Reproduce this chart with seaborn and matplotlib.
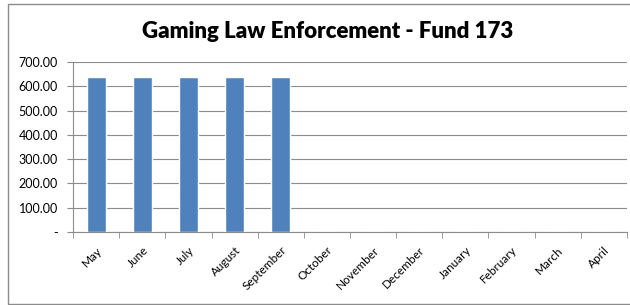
import matplotlib
matplotlib.use('Agg')
import matplotlib.pyplot as plt
from matplotlib.patches import Rectangle
from matplotlib.ticker import FuncFormatter, FixedLocator
import seaborn as sns
import pandas as pd

# Data
months = ['May', 'June', 'July', 'August', 'September', 'October',
          'November', 'December', 'January', 'February', 'March', 'April']
amounts = [640, 640, 640, 640, 640, 0, 0, 0, 0, 0, 0, 0]
title = 'Gaming Law Enforcement - Fund 173'

df = pd.DataFrame({'month': months, 'amount': amounts})

sns.set_style('white')
plt.rcParams['font.family'] = ['Lato', 'DejaVu Sans']

fig = plt.figure(figsize=(6.3, 3.05), dpi=100)
ax = fig.add_axes([73 / 630, 1 - 232 / 305, 554 / 630, 170 / 305])

sns.barplot(data=df, x='month', y='amount', order=months, color='#4f81bd',
            width=0.41, saturation=1, ax=ax, zorder=3)

ax.set_ylim(0, 700)
ax.set_xlim(-0.5, 11.5)
ax.set_yticks(range(0, 701, 100))
ax.yaxis.set_major_formatter(FuncFormatter(lambda v, p: '-' if v == 0 else f'{v:.2f}'))
ax.yaxis.grid(True, color='#8c8c8c', linewidth=0.8, zorder=0)
ax.set_xlabel('')
ax.set_ylabel('')

# tick marks at category boundaries
ax.set_xticks(range(12))
ax.set_xticklabels(months, rotation=45, ha='right', rotation_mode='anchor', fontsize=8.5, color='black')
ax.xaxis.set_minor_locator(FixedLocator([i - 0.5 for i in range(13)]))
ax.tick_params(axis='x', which='major', length=0, pad=9)
ax.tick_params(axis='x', which='minor', length=4, color='#8c8c8c', direction='out', bottom=True)
ax.tick_params(axis='y', length=4, color='#8c8c8c', direction='out', left=True,
               labelsize=9, labelcolor='black', pad=7)

for side in ['top', 'right']:
    ax.spines[side].set_visible(False)
for side in ['left', 'bottom']:
    ax.spines[side].set_color('#8c8c8c')
    ax.spines[side].set_linewidth(0.8)

fig.text(0.52, 1 - 32 / 305, title, ha='center', va='center', fontsize=16,
         fontweight='heavy', color='black')

fig.patches.append(Rectangle((8 / 630, 1 / 305), 1, 300 / 305, transform=fig.transFigure,
                             fill=False, edgecolor='#8c8c8c', linewidth=1))

fig.savefig('out.png', dpi=100)
